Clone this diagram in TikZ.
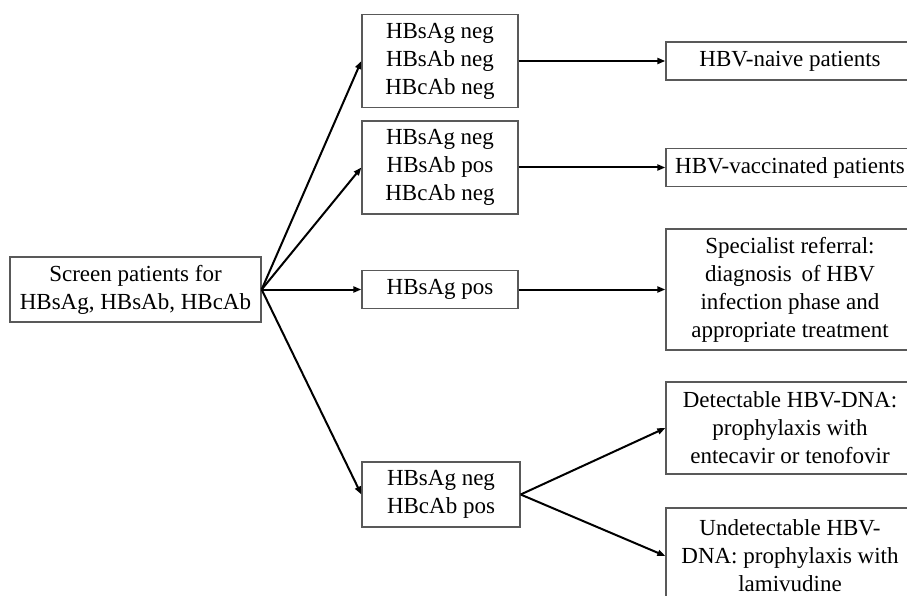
\documentclass[tikz,border=0pt]{standalone}
\usepackage{fontspec}
\setmainfont{Liberation Serif}
\usetikzlibrary{arrows.meta}
\tikzset{
    boxn/.style = {rectangle, draw=black!65, line width=1.3pt, align=center, inner sep=0pt, font=\fontsize{23}{28}\selectfont, text=black},
    boxl/.style = {boxn, minimum width=251pt},
    boxm/.style = {boxn, minimum width=156pt},
    boxr/.style = {boxn, minimum width=248pt},
    edgea/.style = {-{Triangle[length=8pt,width=6pt]}, line width=2pt, black},
}

\begin{document}
\begin{tikzpicture}[x=1pt,y=-1pt]
\useasboundingbox (0,0) rectangle (907,596);
\node[boxl, minimum height=65pt] at (135.5, 289.5) (scr) {Screen patients for\\HBsAg, HBsAb, HBcAb};
%
\node[boxm, minimum height=93pt] at (440, 61) (m1) {HBsAg neg\\HBsAb neg\\HBcAb neg};
\node[boxm, minimum height=93pt] at (440, 167.5) (m2) {HBsAg neg\\HBsAb pos\\HBcAb neg};
\node[boxm, minimum height=38pt] at (440, 289.5) (m3) {HBsAg pos};
\node[boxm, minimum width=158pt, minimum height=65pt] at (441, 494.5) (m4) {HBsAg neg\\HBcAb pos};
%
\node[boxr, minimum height=38pt] at (790, 61) (r1) {HBV-naive patients};
\node[boxr, minimum height=38pt] at (790, 167.5) (r2) {HBV-vaccinated patients};
\node[boxr, minimum height=121pt] at (790, 289.5) (r3) {Specialist referral:\\diagnosis\, of HBV\\infection phase and\\appropriate treatment};
\node[boxr, minimum height=92pt] at (790, 428) (r4) {Detectable HBV-DNA:\\prophylaxis with\\entecavir or tenofovir};
\node[boxr, minimum height=96pt] at (790, 556) (r5) {Undetectable HBV-\\DNA: prophylaxis with\\lamivudine};
%
\draw[edgea] (scr.east) -- (m1.west);
\draw[edgea] (scr.east) -- (m2.west);
\draw[edgea] (scr.east) -- (m3.west);
\draw[edgea] (scr.east) -- (m4.west);
\draw[edgea] (m1) -- (r1);
\draw[edgea] (m2) -- (r2);
\draw[edgea] (m3) -- (r3);
\draw[edgea] (m4.east) -- (r4.west);
\draw[edgea] (m4.east) -- (r5.west);

\end{tikzpicture}
\end{document}
